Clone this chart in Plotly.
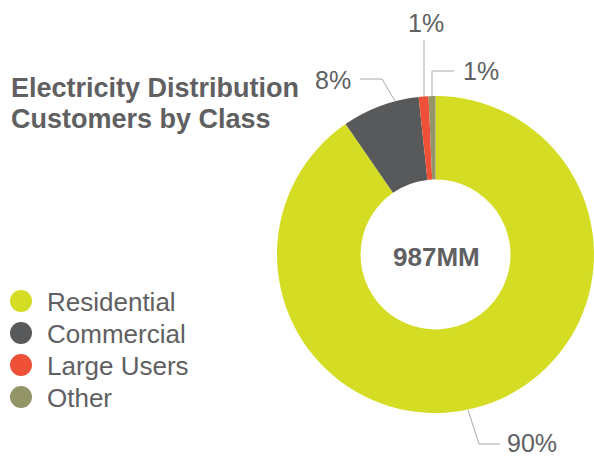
import plotly.graph_objects as go

# ---- data ----
categories = ["Residential", "Commercial", "Large Users", "Other"]
shares = [90.4, 7.9, 1.0, 0.7]
colors = ["#d4dd24", "#58595b", "#ee5137", "#939468"]
total_label = "987MM"
title_lines = ["Electricity Distribution", "Customers by Class"]

W, H = 594, 456
FONT = "Liberation Sans, Arial, Helvetica, sans-serif"
TXT = "#606062"
LINE = "#aaaaaa"

fig = go.Figure()

# donut: centre (435.5, 254.5) px, radius 158.5 px
fig.add_trace(go.Pie(
    labels=categories, values=shares, sort=False, direction="clockwise",
    rotation=0, hole=0.473, textinfo="none", hoverinfo="label+percent",
    showlegend=False,
    marker=dict(colors=colors, line=dict(width=0)),
    domain=dict(x=[277 / W, 594 / W], y=[(H - 413) / H, (H - 96) / H]),
))

# leader lines / label layout (pixel coordinates of an overlay axis)
label_layout = [
    # (line points, text x, text y, anchor)
    ([(468, 410), (479, 444), (500, 444)], 505, 443, "left"),
    ([(395, 101), (382, 79), (360, 79)], 353, 80, "right"),
    ([(424, 97), (424, 40)], 426, 23, "center"),
    ([(432, 97), (432, 71), (454, 71)], 461, 71, "left"),
]
annotations = []
for share, (pts, tx, ty, anc) in zip(shares, label_layout):
    fig.add_trace(go.Scatter(
        x=[p[0] for p in pts], y=[p[1] for p in pts], mode="lines",
        line=dict(color=LINE, width=1), hoverinfo="skip", showlegend=False,
    ))
    annotations.append(dict(
        x=tx, y=ty, xref="x", yref="y", text=f"{round(share)}%",
        showarrow=False, xanchor=anc, yanchor="middle",
        font=dict(family=FONT, size=25, color=TXT),
    ))

# legend (circles + labels)
leg_y = [301 + 32 * i for i in range(len(categories))]
fig.add_trace(go.Scatter(
    x=[21] * len(categories), y=leg_y, mode="markers",
    marker=dict(size=22, color=colors, line=dict(width=0)),
    hoverinfo="skip", showlegend=False,
))
for cat, yy in zip(categories, leg_y):
    annotations.append(dict(
        x=45, y=yy + 1, xref="x", yref="y", text=cat, showarrow=False,
        xanchor="left", yanchor="middle",
        font=dict(family=FONT, size=26, color=TXT),
    ))

# title
for i, line in enumerate(title_lines):
    annotations.append(dict(
        x=9, y=88 + 31 * i, xref="x", yref="y", text=f"<b>{line}</b>",
        showarrow=False, xanchor="left", yanchor="middle",
        font=dict(family=FONT, size=27, color=TXT),
    ))

# centre label
annotations.append(dict(
    x=436, y=257, xref="x", yref="y", text=f"<b>{total_label}</b>",
    showarrow=False, xanchor="center", yanchor="middle",
    font=dict(family=FONT, size=26, color=TXT),
))

fig.update_layout(
    width=W, height=H, margin=dict(l=0, r=0, t=0, b=0),
    paper_bgcolor="white", plot_bgcolor="rgba(0,0,0,0)",
    xaxis=dict(range=[0, W], visible=False, fixedrange=True, domain=[0, 1]),
    yaxis=dict(range=[H, 0], visible=False, fixedrange=True, domain=[0, 1]),
    annotations=annotations, showlegend=False,
)

fig.write_html("out.html")
